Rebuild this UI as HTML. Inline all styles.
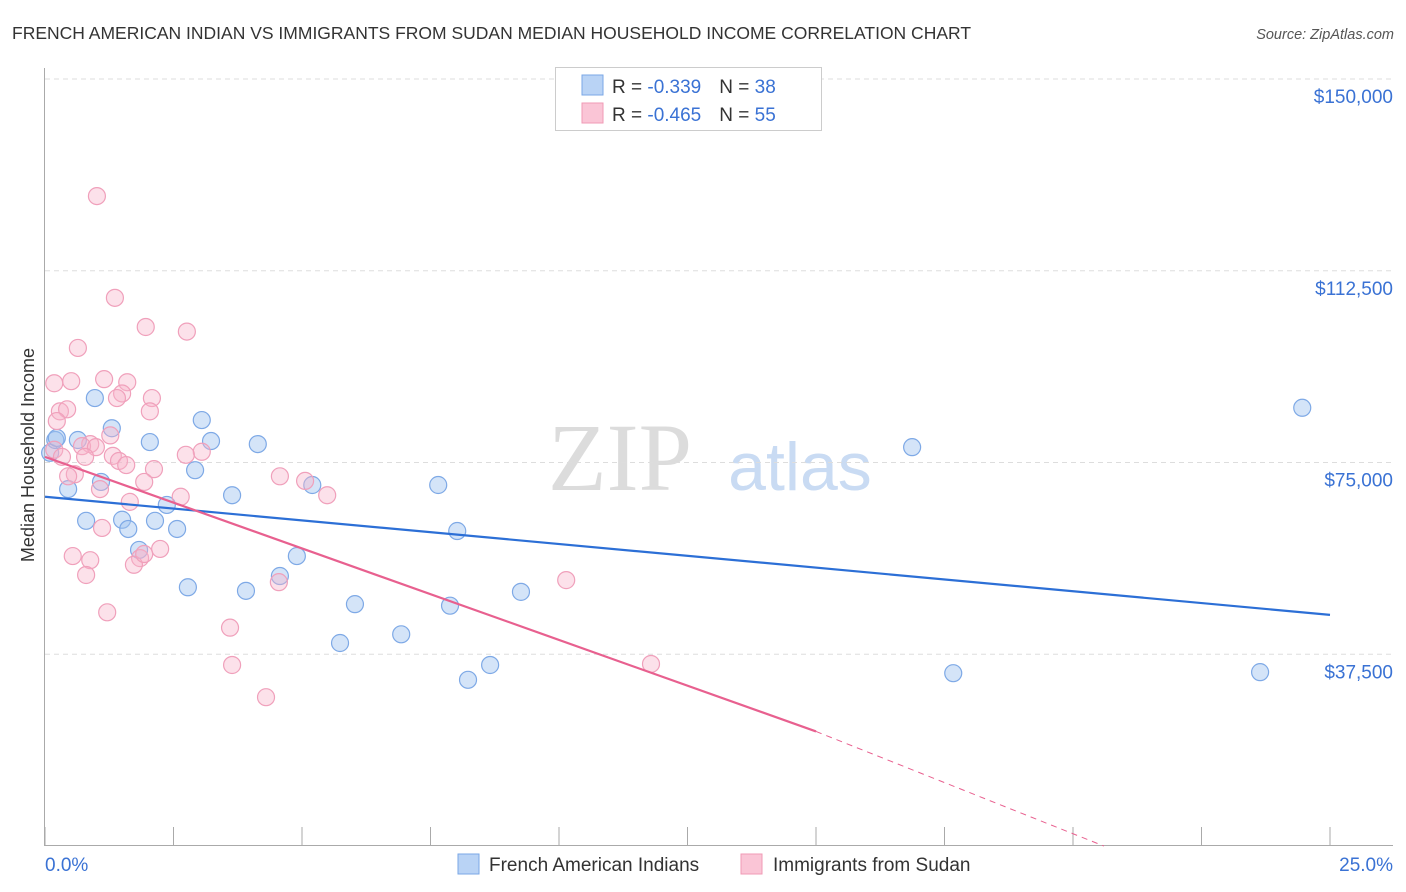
<!DOCTYPE html>
<html><head><meta charset="utf-8"><style>
body{margin:0;background:#fff;font-family:"Liberation Sans",sans-serif;}
#wrap{position:relative;width:1406px;height:892px;overflow:hidden;}
</style></head><body>
<div id="wrap">
<svg id="svg" width="1406" height="892" xmlns="http://www.w3.org/2000/svg" font-family="Liberation Sans, sans-serif">
<text x="12" y="39" font-size="17.5" fill="#333">FRENCH AMERICAN INDIAN VS IMMIGRANTS FROM SUDAN MEDIAN HOUSEHOLD INCOME CORRELATION CHART</text>
<text x="1394" y="39" font-size="14.5" fill="#555" font-style="italic" text-anchor="end">Source: ZipAtlas.com</text>
<text x="620" y="490" font-size="96" fill="#dcdcdc" text-anchor="middle" font-family="Liberation Serif, serif">ZIP</text>
<text x="800" y="490" font-size="68" fill="#c9dbf3" text-anchor="middle">atlas</text>
<text transform="translate(34,455) rotate(-90)" font-size="18" fill="#333" text-anchor="middle">Median Household Income</text>
<g id="grid"></g><g id="pts"></g><g id="lines"></g>
<g>
<rect x="555.5" y="67.5" width="266" height="63" fill="#fff" stroke="#ccc"/>
<rect x="582" y="75" width="21" height="20" fill="#b9d3f5" stroke="#7aa7e6"/>
<rect x="582" y="103" width="21" height="20" fill="#fac5d6" stroke="#f09ab5"/>
<text x="612" y="93" font-size="19" fill="#333">R = <tspan fill="#3a72d4">-0.339</tspan><tspan dx="18">N = </tspan><tspan fill="#3a72d4">38</tspan></text>
<text x="612" y="121" font-size="19" fill="#333">R = <tspan fill="#3a72d4">-0.465</tspan><tspan dx="18">N = </tspan><tspan fill="#3a72d4">55</tspan></text>
</g>
<g>
<rect x="458" y="854" width="21" height="20" fill="#b9d3f5" stroke="#7aa7e6"/>
<text x="489" y="871" font-size="19" fill="#333">French American Indians</text>
<rect x="741" y="854" width="21" height="20" fill="#fac5d6" stroke="#f09ab5"/>
<text x="773" y="871" font-size="19" fill="#333">Immigrants from Sudan</text>
</g>
<text x="45" y="871" font-size="19" fill="#3a72d4">0.0%</text>
<text x="1393" y="871" font-size="19" fill="#3a72d4" text-anchor="end">25.0%</text>
</svg>
</div>
<script>
const yTicks=[37500,75000,112500,150000];
const yTickLabels=["$37,500","$75,000","$112,500","$150,000"];
const blueX=[0.1,0.2,0.23,0.45,0.64,0.8,0.97,1.09,1.3,1.5,1.62,1.83,2.04,2.14,2.37,2.57,2.78,2.92,3.05,3.23,3.64,3.91,4.14,4.57,4.9,5.2,5.74,6.03,6.93,7.65,7.88,8.02,8.23,8.66,9.26,16.87,17.67,23.64,24.46];
const blueY=[76900,79400,79800,69800,79400,63600,87600,71200,81700,63800,62000,57900,79000,63600,66700,62000,50600,73500,83300,79200,68600,49900,78600,52800,56700,70600,39700,47300,41400,70600,47000,61600,32500,35400,49700,78000,33800,34000,85700];
const pinkX=[1.01,1.36,1.96,2.76,0.64,0.18,0.51,1.15,1.6,1.5,1.4,2.08,0.29,0.43,2.04,0.23,1.27,0.88,0.72,0.99,0.18,0.33,0.78,1.32,1.44,1.58,2.12,3.05,2.74,4.57,5.06,5.49,0.58,0.45,1.07,2.64,1.65,1.93,1.11,0.54,0.88,2.24,1.85,1.73,0.8,10.14,4.55,1.21,3.6,3.64,11.79,4.3,1.93];
const pinkY=[127100,107200,101500,100600,97400,90500,90900,91300,90700,88500,87600,87600,85000,85400,85000,83100,80300,78600,78200,78000,77500,76100,76100,76300,75300,74500,73700,77100,76500,72300,71400,68600,72700,72300,69800,68300,67300,71200,62200,56700,55900,58100,56300,55000,53000,52000,51600,45700,42700,35400,35600,29100,57100];
const X0=45,X1=1330,Y0=846,PPY=767/150000;
const xs=p=>X0+(X1-X0)*p/25, ys=v=>Y0-v*PPY;
const NS="http://www.w3.org/2000/svg";
function mk(t,a,parent){const e=document.createElementNS(NS,t);for(const k in a)e.setAttribute(k,a[k]);parent.appendChild(e);return e;}
const grid=document.getElementById('grid');
yTicks.forEach((v,i)=>{
 const l=mk('line',{x1:X0,x2:1393,y1:ys(v),y2:ys(v),stroke:'#ddd','stroke-dasharray':'5,4'},grid);
 
 
 const t=mk('text',{x:1393,y:ys(v)+24,'font-size':19,fill:'#3a72d4','text-anchor':'end'},grid);
 t.textContent=yTickLabels[i];
 
 
});
const ax=mk('line',{x1:44.5,x2:44.5,y1:68,y2:846,stroke:'#aaa'},grid);


const bx=mk('line',{x1:44,x2:1393,y1:845.5,y2:845.5,stroke:'#aaa'},grid);


for(let i=0;i<=10;i++){const t=mk('line',{x1:xs(i*2.5),x2:xs(i*2.5),y1:827,y2:846,stroke:'#aaa'},grid);
 
 }
const pts=document.getElementById('pts');
blueX.forEach((x,i)=>{const c=mk('circle',{cx:xs(x),cy:ys(blueY[i]),r:8.5,fill:'rgba(160,195,240,0.45)',stroke:'#7ea9e6','stroke-width':1.2},pts);
 
 });
pinkX.forEach((x,i)=>{const c=mk('circle',{cx:xs(x),cy:ys(pinkY[i]),r:8.5,fill:'rgba(248,180,202,0.4)',stroke:'#f0a0bb','stroke-width':1.2},pts);
 
 });
const lines=document.getElementById('lines');
const bl=mk('line',{x1:xs(0),y1:ys(68300),x2:xs(25),y2:ys(45200),stroke:'#2c6fd6','stroke-width':2.2},lines);


const pl=mk('line',{x1:xs(0),y1:ys(76100),x2:xs(15),y2:ys(22400),stroke:'#e8608f','stroke-width':2.2},lines);


const pd=mk('line',{x1:xs(15),y1:ys(22400),x2:xs(20.6),y2:ys(0),stroke:'#e8608f','stroke-width':1,'stroke-dasharray':'6,5'},lines);


</script>
</body></html>
